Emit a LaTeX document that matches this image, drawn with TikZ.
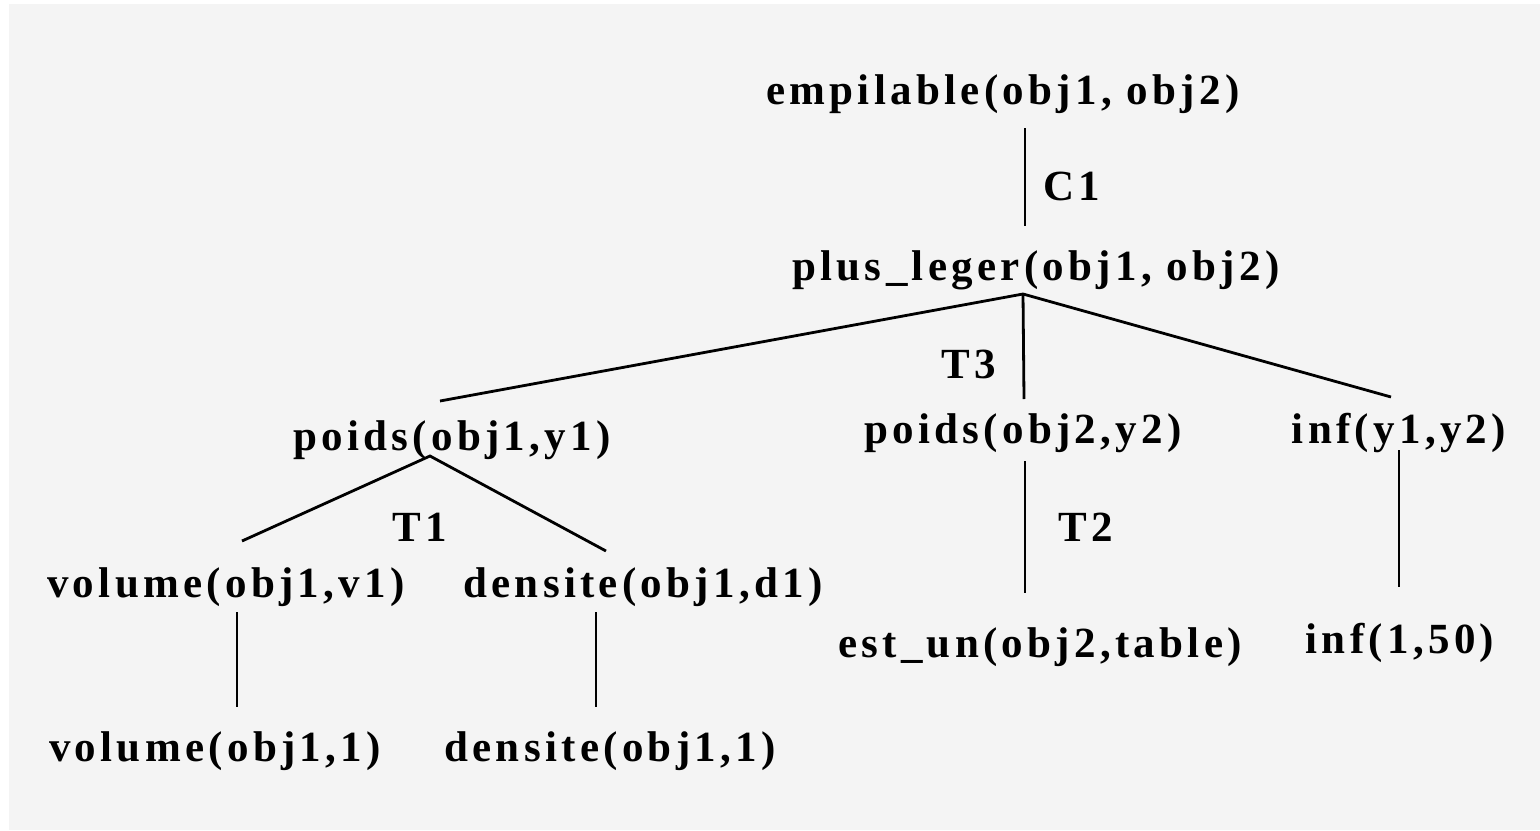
\documentclass[tikz,border=0pt]{standalone}
\usepackage{fontspec}
\setmainfont{Liberation Serif}[LetterSpace=10]
\usepackage{tikz}
\usetikzlibrary{calc}
\definecolor{fond}{RGB}{244,244,244}
\definecolor{trait}{RGB}{0,0,0}

\tikzset{
  pred/.style={anchor=base, inner sep=0pt, font=\fontsize{21.5}{25}\selectfont\bfseries},
  etiq/.style={pred},
  arete/.style={trait, line width=1.4pt}
}

\begin{document}
\begin{tikzpicture}[x=0.5pt, y=-0.5pt]

    \useasboundingbox (0,0) rectangle (1540,830);
    \fill[fond] (9,4) rectangle (1540,830);

    % predicats
    \node[pred] (emp)    at (1003,104) {empilable(obj1, obj2)};
    \node[pred] (plus)   at (1036,280) {plus\_leger(obj1, obj2)};
    \node[pred] (poids1) at (452,450)  {poids(obj1,y1)};
    \node[pred] (poids2) at (1023,443) {poids(obj2,y2)};
    \node[pred] (inf1)   at (1399,443) {inf(y1,y2)};
    \node[pred] (vol1)   at (226,597)  {volume(obj1,v1)};
    \node[pred] (dens1)  at (643,597)  {densite(obj1,d1)};
    \node[pred] (estun)  at (1040,657) {est\_un(obj2,table)};
    \node[pred] (inf2)   at (1400,653) {inf(1,50)};
    \node[pred] (vol2)   at (215,761)  {volume(obj1,1)};
    \node[pred] (dens2)  at (610,761)  {densite(obj1,1)};

    % regles
    \node[etiq] (c1) at (1072,200) {C1};
    \node[etiq] (t3) at (969,378)  {T3};
    \node[etiq] (t1) at (420,541)  {T1};
    \node[etiq] (t2) at (1086,541) {T2};

    % bouts des aretes
    \coordinate (emp-b)    at (1025,128);
    \coordinate (plus-h)   at (1025,226);
    \coordinate (plus-b)   at (1023,294);
    \coordinate (poids1-h) at (440,401);
    \coordinate (poids2-h) at (1024,399);
    \coordinate (inf1-h)   at (1391,397);
    \coordinate (poids1-b) at (430,456);
    \coordinate (vol1-h)   at (242,541);
    \coordinate (dens1-h)  at (606,551);
    \coordinate (vol1-b)   at (237,612);
    \coordinate (vol2-h)   at (237,707);
    \coordinate (dens1-b)  at (596,612);
    \coordinate (dens2-h)  at (596,707);
    \coordinate (poids2-b) at (1025,461);
    \coordinate (estun-h)  at (1025,593);
    \coordinate (inf1-b)   at (1399,450);
    \coordinate (inf2-h)   at (1399,587);

    \draw[arete] (emp-b) -- (plus-h);
    \draw[arete] (poids1-h) -- (plus-b) -- (inf1-h);
    \draw[arete] (plus-b) -- (poids2-h);
    \draw[arete] (vol1-h) -- (poids1-b) -- (dens1-h);
    \draw[arete] (vol1-b) -- (vol2-h);
    \draw[arete] (dens1-b) -- (dens2-h);
    \draw[arete] (poids2-b) -- (estun-h);
    \draw[arete] (inf1-b) -- (inf2-h);

\end{tikzpicture}
\end{document}
